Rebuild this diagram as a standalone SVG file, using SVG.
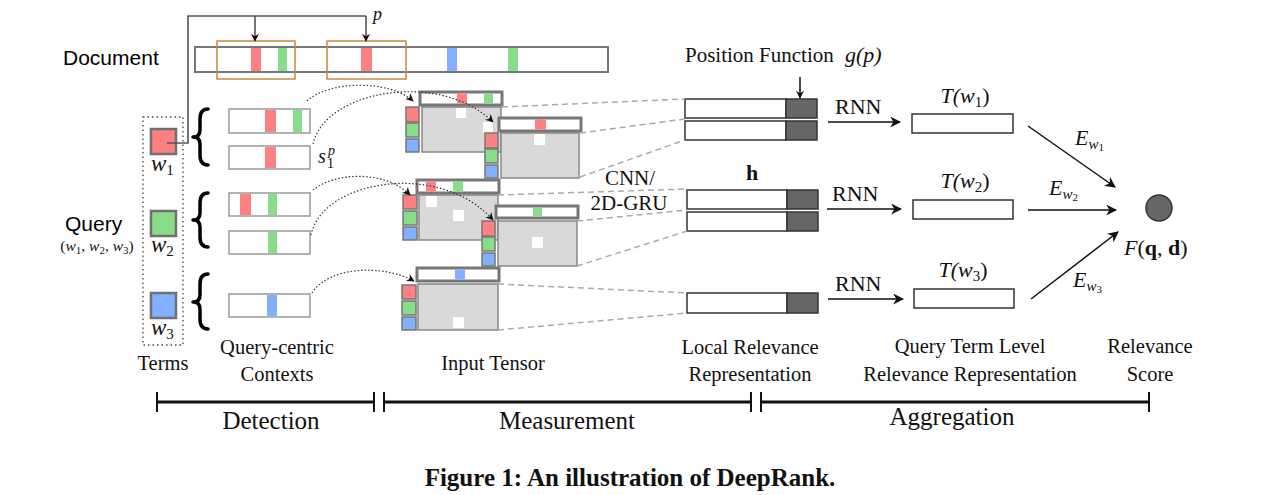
<svg xmlns="http://www.w3.org/2000/svg" width="1275" height="495" viewBox="0 0 1275 495">
<style>
.sans{font-family:"Liberation Sans",Arial,sans-serif;fill:#000}
.serif{font-family:"Liberation Serif","Times New Roman",serif;fill:#111}
.it{font-style:italic}
.lbl{font-size:20.5px}
.red{fill:#ff8080}
.grn{fill:#88dd88}
.blu{fill:#80b0ff}
.ctx{fill:#fff;stroke:#999;stroke-width:1.5}
.topbar{fill:#fff;stroke:#777;stroke-width:3}
.mat{fill:#d9d9d9;stroke:#888;stroke-width:1.5}
.wsq{fill:#fff}
.side{stroke:#777;stroke-width:1.5}
.term{stroke:#707070;stroke-width:2.5}
.lr{fill:#fff;stroke:#333;stroke-width:1.5}
.lrd{fill:#666;stroke:#333;stroke-width:1.5}
.box{fill:#fff;stroke:#333;stroke-width:1.5}
.brace{fill:none;stroke:#000;stroke-width:3.5;stroke-linejoin:round;stroke-linecap:round}
.dash{fill:none;stroke:#aaa;stroke-width:1.5;stroke-dasharray:6 4}
.dot{fill:none;stroke:#333;stroke-width:1.2;stroke-dasharray:1.5 2}
.solid{fill:none;stroke:#555;stroke-width:1.6}
.arr{fill:none;stroke:#111;stroke-width:1.5}
</style>
<defs>
<marker id="ah" viewBox="0 0 10 10" refX="9" refY="5" markerWidth="8" markerHeight="8" markerUnits="userSpaceOnUse" orient="auto">
<path d="M0,0 L10,5 L0,10 L3,5 Z" fill="#111"/>
</marker>
<marker id="ahs" viewBox="0 0 10 10" refX="9" refY="5" markerWidth="11" markerHeight="11" markerUnits="userSpaceOnUse" orient="auto">
<path d="M0,0 L10,5 L0,10 L3,5 Z" fill="#111"/>
</marker>
</defs>
<rect width="1275" height="495" fill="#fff"/>

<!-- Document -->
<g id="document">
<text class="sans" x="63" y="65" font-size="21">Document</text>
<rect x="195" y="47" width="413" height="25" fill="#fff" stroke="#777" stroke-width="2"/>
<rect class="red" x="251" y="48" width="10" height="23"/>
<rect class="grn" x="278" y="48" width="9" height="23"/>
<rect class="red" x="361" y="48" width="11" height="23"/>
<rect class="blu" x="447" y="48" width="10" height="23"/>
<rect class="grn" x="508" y="48" width="10" height="23"/>
<rect x="217" y="41" width="78" height="38" fill="none" stroke="#c98b3e" stroke-width="1.5"/>
<rect x="327" y="41" width="79" height="38" fill="none" stroke="#c98b3e" stroke-width="1.5"/>
</g>

<!-- Query terms -->
<g id="terms">
<rect x="143" y="117" width="40" height="228" fill="none" stroke="#444" stroke-width="1.3" stroke-dasharray="1.5 3"/>
<text class="sans" x="65" y="231" font-size="21">Query</text>
<text class="serif" x="97" y="251" font-size="15.5" text-anchor="middle">(<tspan class="it">w</tspan><tspan font-size="11" dy="3">1</tspan><tspan dy="-3">, </tspan><tspan class="it">w</tspan><tspan font-size="11" dy="3">2</tspan><tspan dy="-3">, </tspan><tspan class="it">w</tspan><tspan font-size="11" dy="3">3</tspan><tspan dy="-3">)</tspan></text>
<text class="serif lbl" x="163" y="370" text-anchor="middle">Terms</text>
</g>
<g id="term-w1">
<rect class="red term" x="151" y="129" width="25" height="25"/>
<text class="serif it" x="151" y="171" font-size="23">w<tspan font-size="15" font-style="normal" dy="4">1</tspan></text>
</g>
<g id="term-w2">
<rect class="grn term" x="151" y="211" width="25" height="25"/>
<text class="serif it" x="151" y="252" font-size="23">w<tspan font-size="15" font-style="normal" dy="4">2</tspan></text>
</g>
<g id="term-w3">
<rect class="blu term" x="151" y="293" width="25" height="25"/>
<text class="serif it" x="151" y="335" font-size="23">w<tspan font-size="15" font-style="normal" dy="4">3</tspan></text>
</g>

<!-- Braces -->
<g id="braces">
<path class="brace" d="M208,109 Q200,109 200,119 L200,130 Q200,137 193,137 Q200,137 200,144 L200,155 Q200,165 208,165"/>
<path class="brace" d="M208,193 Q200,193 200,203 L200,213 Q200,220 193,220 Q200,220 200,227 L200,237 Q200,247 208,247"/>
<path class="brace" d="M208,274 Q200,274 200,284 L200,295 Q200,302 193,302 Q200,302 200,309 L200,319 Q200,329 208,329"/>
</g>

<!-- Query-centric contexts -->
<g id="contexts">
<text class="serif lbl" x="277" y="354" text-anchor="middle">Query-centric</text>
<text class="serif lbl" x="277" y="381" text-anchor="middle">Contexts</text>
</g>
<g id="ctx-w1-a">
<rect class="ctx" x="229" y="109" width="81" height="24"/>
<rect class="red" x="265" y="110" width="11" height="22"/>
<rect class="grn" x="293" y="110" width="9" height="22"/>
</g>
<g id="ctx-w1-b">
<rect class="ctx" x="229" y="146" width="81" height="23"/>
<rect class="red" x="265" y="147" width="11" height="21"/>
<text class="serif it" x="318" y="163" font-size="20">s</text>
<text class="serif it" x="328" y="155" font-size="14">p</text>
<text class="serif" x="327" y="168" font-size="14">1</text>
</g>
<g id="ctx-w2-a">
<rect class="ctx" x="229" y="193" width="81" height="23"/>
<rect class="red" x="240" y="194" width="11" height="21"/>
<rect class="grn" x="268" y="194" width="9" height="21"/>
</g>
<g id="ctx-w2-b">
<rect class="ctx" x="229" y="231" width="81" height="23"/>
<rect class="grn" x="268" y="232" width="9" height="21"/>
</g>
<g id="ctx-w3">
<rect class="ctx" x="229" y="294" width="81" height="23"/>
<rect class="blu" x="267" y="295" width="10" height="21"/>
</g>

<!-- Input tensors -->
<g id="tensor-1">
<rect class="mat" x="422" y="107" width="79" height="45"/>
<rect class="wsq" x="456" y="108" width="10" height="10"/>
<rect class="wsq" x="483" y="122" width="10" height="11"/>
<rect class="topbar" x="420" y="92" width="82" height="13"/>
<rect class="red" x="457" y="93.5" width="10" height="10"/>
<rect class="grn" x="484" y="93.5" width="9" height="10"/>
<rect class="red side" x="406" y="107" width="13" height="15"/>
<rect class="grn side" x="406" y="123" width="13" height="14"/>
<rect class="blu side" x="406" y="139" width="13" height="13"/>
</g>
<g id="tensor-2">
<rect class="mat" x="501" y="133" width="78" height="45"/>
<rect class="wsq" x="534" y="134" width="11" height="11"/>
<rect class="topbar" x="499" y="118" width="82" height="13"/>
<rect class="red" x="535" y="119.5" width="11" height="10"/>
<rect class="red side" x="485" y="133" width="13" height="15"/>
<rect class="grn side" x="485" y="149" width="13" height="14"/>
<rect class="blu side" x="485" y="165" width="13" height="13"/>
</g>
<g id="tensor-3">
<rect class="mat" x="419" y="195" width="79" height="45"/>
<rect class="wsq" x="426" y="196" width="11" height="11"/>
<rect class="wsq" x="453" y="210" width="11" height="11"/>
<rect class="topbar" x="417" y="180" width="82" height="13"/>
<rect class="red" x="426" y="181.5" width="10" height="10"/>
<rect class="grn" x="453" y="181.5" width="10" height="10"/>
<rect class="red side" x="403" y="195" width="14" height="14"/>
<rect class="grn side" x="403" y="211" width="14" height="14"/>
<rect class="blu side" x="403" y="227" width="14" height="13"/>
</g>
<g id="tensor-4">
<rect class="mat" x="498" y="221" width="79" height="45"/>
<rect class="wsq" x="532" y="237" width="11" height="11"/>
<rect class="topbar" x="496" y="206" width="82" height="12"/>
<rect class="grn" x="533" y="207.5" width="9" height="9"/>
<rect class="red side" x="482" y="221" width="13" height="15"/>
<rect class="grn side" x="482" y="237" width="13" height="14"/>
<rect class="blu side" x="482" y="253" width="13" height="13"/>
</g>
<g id="tensor-5">
<rect class="mat" x="418" y="284" width="80" height="46"/>
<rect class="wsq" x="453" y="317" width="11" height="11"/>
<rect class="topbar" x="417" y="268" width="82" height="13"/>
<rect class="blu" x="455" y="269.5" width="10" height="10"/>
<rect class="red side" x="402" y="285" width="14" height="14"/>
<rect class="grn side" x="402" y="301" width="14" height="14"/>
<rect class="blu side" x="402" y="317" width="14" height="13"/>
</g>
<g id="input-tensor-label">
<text class="serif lbl" x="493" y="370" text-anchor="middle">Input Tensor</text>
<text class="serif" x="630" y="185" font-size="21" text-anchor="middle">CNN/</text>
<text class="serif" x="629" y="210" font-size="21" text-anchor="middle">2D-GRU</text>
</g>

<!-- Local relevance -->
<g id="local-relevance">
<text class="serif" x="685" y="62" font-size="21">Position Function</text>
<text class="serif it" x="845" y="62" font-size="22">g(p)</text>
<text class="serif" x="752" y="180" font-size="22" font-weight="bold" text-anchor="middle">h</text>
<text class="serif lbl" x="750" y="354" text-anchor="middle">Local Relevance</text>
<text class="serif lbl" x="750" y="381" text-anchor="middle">Representation</text>
</g>
<g id="lr-1">
<rect class="lr" x="685" y="99" width="101" height="19"/><rect class="lrd" x="786" y="99" width="31" height="19"/>
</g>
<g id="lr-2">
<rect class="lr" x="685" y="121" width="101" height="19"/><rect class="lrd" x="786" y="121" width="31" height="19"/>
</g>
<g id="lr-3">
<rect class="lr" x="687" y="190" width="100" height="19"/><rect class="lrd" x="787" y="190" width="31" height="19"/>
</g>
<g id="lr-4">
<rect class="lr" x="687" y="212" width="100" height="19"/><rect class="lrd" x="787" y="212" width="31" height="19"/>
</g>
<g id="lr-5">
<rect class="lr" x="687" y="293" width="100" height="20"/><rect class="lrd" x="787" y="293" width="31" height="20"/>
</g>

<!-- Query term level -->
<g id="t-w1">
<rect class="box" x="912" y="114" width="101" height="19"/>
<text class="serif it" x="965" y="103" font-size="22" text-anchor="middle">T(<tspan>w</tspan><tspan font-size="15" font-style="normal" dy="4">1</tspan><tspan font-style="normal" dy="-4">)</tspan></text>
</g>
<g id="t-w2">
<rect class="box" x="913" y="200" width="100" height="19"/>
<text class="serif it" x="965" y="188" font-size="22" text-anchor="middle">T(<tspan>w</tspan><tspan font-size="15" font-style="normal" dy="4">2</tspan><tspan font-style="normal" dy="-4">)</tspan></text>
</g>
<g id="t-w3">
<rect class="box" x="914" y="289" width="100" height="19"/>
<text class="serif it" x="963" y="277" font-size="22" text-anchor="middle">T(<tspan>w</tspan><tspan font-size="15" font-style="normal" dy="4">3</tspan><tspan font-style="normal" dy="-4">)</tspan></text>
</g>
<g id="qtl-label">
<text class="serif lbl" x="970" y="353" text-anchor="middle">Query Term Level</text>
<text class="serif lbl" x="970" y="381" text-anchor="middle">Relevance Representation</text>
</g>

<!-- Relevance score -->
<g id="score">
<circle cx="1159" cy="208" r="13" fill="#666" stroke="#333" stroke-width="1.5"/>
<text class="serif" x="1124" y="255" font-size="22"><tspan font-style="italic">F</tspan>(<tspan font-weight="bold">q</tspan>, <tspan font-weight="bold">d</tspan>)</text>
<text class="serif lbl" x="1150" y="353" text-anchor="middle">Relevance</text>
<text class="serif lbl" x="1150" y="381" text-anchor="middle">Score</text>
</g>

<!-- Connectors -->
<g id="connectors">
<path class="solid" d="M167,143 H188 V16 H366"/>
<path class="solid" d="M255,16 V41" marker-end="url(#ah)"/>
<path class="solid" d="M366,16 V41" marker-end="url(#ah)"/>
<text class="serif it" x="373" y="20" font-size="18">p</text>
<path class="arr" d="M800,77 V98" marker-end="url(#ah)"/>

<path class="dot" d="M307,101 C330,80 390,80 413,101" marker-end="url(#ah)"/>
<path class="dot" d="M313,144 C325,90 440,70 493,122" marker-end="url(#ah)"/>
<path class="dot" d="M313,190 C335,172 385,170 410,195" marker-end="url(#ah)"/>
<path class="dot" d="M311,235 C322,180 440,160 493,220" marker-end="url(#ah)"/>
<path class="dot" d="M312,293 C330,265 385,265 414,281" marker-end="url(#ah)"/>

<path class="dash" d="M502,107 L685,99"/>
<path class="dash" d="M580,133 L685,119"/>
<path class="dash" d="M580,177 L685,140"/>
<path class="dash" d="M498,195 L687,189"/>
<path class="dash" d="M577,221 L687,210"/>
<path class="dash" d="M577,266 L687,231"/>
<path class="dash" d="M498,284 L687,293"/>
<path class="dash" d="M498,330 L687,313"/>

<path class="arr" d="M828,122 H900" marker-end="url(#ahs)"/>
<path class="arr" d="M827,209 H901" marker-end="url(#ahs)"/>
<path class="arr" d="M828,299 H903" marker-end="url(#ahs)"/>
<text class="serif" x="835" y="114" font-size="22">RNN</text>
<text class="serif" x="832" y="201" font-size="22">RNN</text>
<text class="serif" x="835" y="291" font-size="22">RNN</text>

<path class="arr" d="M1028,126 L1115,187" marker-end="url(#ahs)"/>
<path class="arr" d="M1028,210 H1116" marker-end="url(#ahs)"/>
<path class="arr" d="M1031,299 L1118,232" marker-end="url(#ahs)"/>
<text class="serif it" x="1075" y="145" font-size="22">E<tspan font-size="15" dy="4">w</tspan><tspan font-size="11" font-style="normal" dy="2">1</tspan></text>
<text class="serif it" x="1049" y="195" font-size="22">E<tspan font-size="15" dy="4">w</tspan><tspan font-size="11" font-style="normal" dy="2">2</tspan></text>
<text class="serif it" x="1073" y="287" font-size="22">E<tspan font-size="15" dy="4">w</tspan><tspan font-size="11" font-style="normal" dy="2">3</tspan></text>
</g>

<!-- Timeline -->
<g id="timeline">
<path d="M157,402 H374 M384,402 H751 M761,402 H1149" stroke="#111" stroke-width="3.2" fill="none"/>
<path d="M157,392 V412 M374,392 V412 M384,392 V412 M751,392 V412 M761,392 V412 M1149,392 V412" stroke="#111" stroke-width="2" fill="none"/>
<text class="serif" x="271" y="429" font-size="25" text-anchor="middle">Detection</text>
<text class="serif" x="567" y="429" font-size="25" text-anchor="middle">Measurement</text>
<text class="serif" x="952" y="425" font-size="25" text-anchor="middle">Aggregation</text>
</g>

<g id="caption">
<text class="serif" x="630" y="486" font-size="25" font-weight="bold" text-anchor="middle">Figure 1: An illustration of DeepRank.</text>
</g>
</svg>
